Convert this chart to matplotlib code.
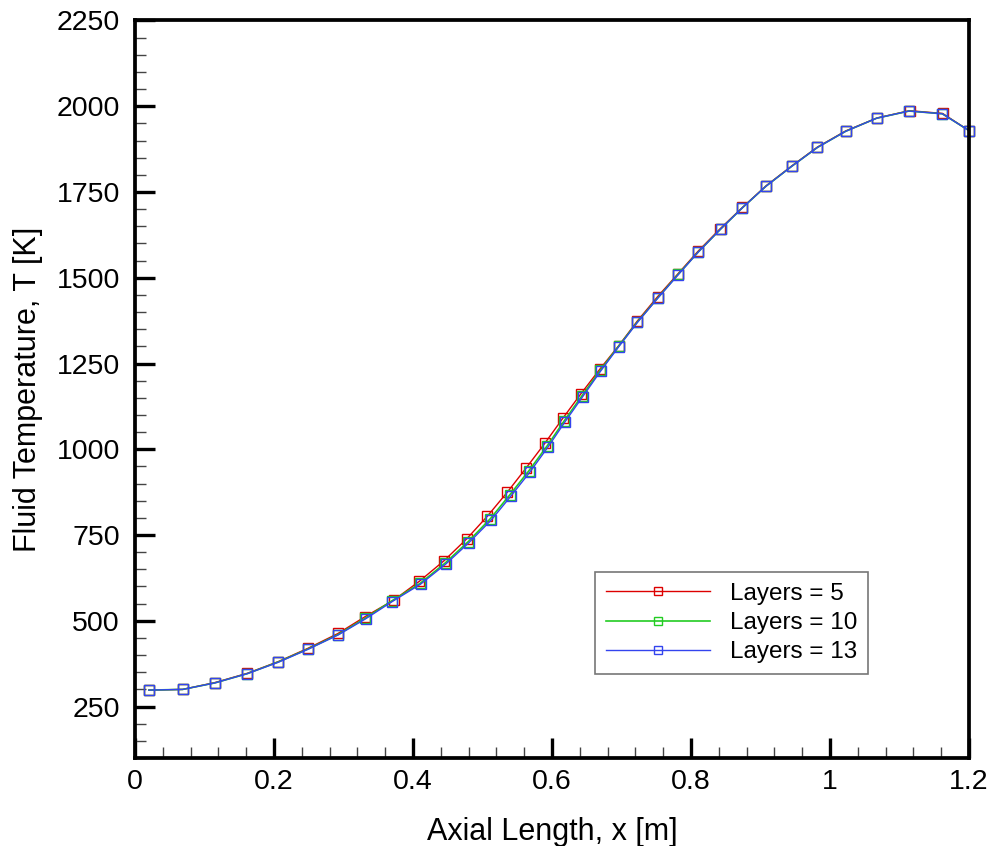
import matplotlib
matplotlib.use("Agg")
import matplotlib.pyplot as plt
from matplotlib.ticker import MultipleLocator, FuncFormatter

plt.rcParams['font.family'] = ['Liberation Sans', 'DejaVu Sans']

# Layers = 13 (blue)
x_13 = [0.020, 0.0686, 0.115, 0.1616, 0.206, 0.249, 0.2925, 0.332, 0.370, 0.411,
        0.4475, 0.4806, 0.5127, 0.541, 0.568, 0.5947, 0.6187, 0.644, 0.670, 0.696,
        0.723, 0.752, 0.7817, 0.8105, 0.8427, 0.874, 0.908, 0.945, 0.982, 1.0226,
        1.067, 1.1137, 1.1616, 1.2]
t_13 = [298, 300, 319, 346, 379, 417, 459, 506, 556, 607,
        666, 728, 794, 864, 933, 1008, 1080, 1153, 1228, 1299,
        1370, 1440, 1509, 1575, 1642, 1704, 1767, 1825, 1880, 1927,
        1965, 1986, 1978, 1929]

# Layers = 10 (green)
x_10 = [0.020, 0.0686, 0.115, 0.1616, 0.206, 0.249, 0.2922, 0.3316, 0.3695, 0.4102,
        0.4466, 0.4795, 0.5114, 0.5396, 0.5666, 0.5934, 0.6176, 0.6431, 0.6694, 0.6957,
        0.7228, 0.752, 0.7815, 0.8104, 0.8427, 0.874, 0.908, 0.945, 0.982, 1.0226,
        1.067, 1.1137, 1.1616, 1.2]
t_10 = [298, 300, 319, 346, 380, 418, 460, 508, 558, 609,
        669, 731, 798, 868, 937, 1011, 1083, 1156, 1230, 1300,
        1371, 1441, 1510, 1575, 1642, 1704, 1767, 1825, 1880, 1927,
        1965, 1986, 1978, 1929]

# Layers = 5 (red)
x_5 = [0.020, 0.0686, 0.115, 0.1616, 0.206, 0.249, 0.292, 0.331, 0.3727, 0.409,
       0.4446, 0.4773, 0.507, 0.5357, 0.5626, 0.5895, 0.6154, 0.6413, 0.669, 0.696,
       0.7228, 0.752, 0.781, 0.810, 0.842, 0.874, 0.908, 0.945, 0.982, 1.0226,
       1.068, 1.1145, 1.162, 1.2]
t_5 = [298, 300, 320, 347, 381, 420, 463, 512, 561, 615,
       675, 739, 805, 875, 945, 1017, 1090, 1161, 1234, 1302,
       1374, 1445, 1511, 1577, 1643, 1705, 1768, 1826, 1881, 1928,
       1966, 1987, 1979, 1929]

fig = plt.figure(figsize=(9.93, 8.46), dpi=100)
ax = fig.add_axes([0.136, 0.104, 0.8398, 0.8718])

ax.plot(x_5, t_5, color='#dd0000', lw=1.0, marker='s', ms=7, mfc='none',
        mec='#dd0000', mew=1.0, label='Layers = 5', clip_on=False)
ax.plot(x_10, t_10, color='#22cc22', lw=1.2, marker='s', ms=7, mfc='none',
        mec='#22cc22', mew=1.0, label='Layers = 10', clip_on=False)
ax.plot(x_13, t_13, color='#3344ee', lw=1.0, marker='s', ms=7, mfc='none',
        mec='#3344ee', mew=1.0, label='Layers = 13', clip_on=False)

ax.set_xlim(0, 1.2)
ax.set_ylim(100, 2250)
ax.xaxis.set_major_locator(MultipleLocator(0.2))
ax.xaxis.set_minor_locator(MultipleLocator(0.04))
ax.yaxis.set_major_locator(MultipleLocator(250))
ax.yaxis.set_minor_locator(MultipleLocator(50))
ax.xaxis.set_major_formatter(FuncFormatter(lambda v, p: '%g' % round(v, 2)))

for s in ax.spines.values():
    s.set_linewidth(2.7)
    s.set_zorder(5)
ax.tick_params(which='major', direction='in', length=14.5, width=2.4,
               labelsize=20.5, top=False, right=False)
ax.tick_params(axis='x', which='major', pad=8)
ax.tick_params(axis='y', which='major', pad=11)
ax.tick_params(which='minor', direction='in', length=8, width=1.0,
               top=False, right=False, color='#444444')

ax.set_xlabel('Axial Length, x [m]', fontsize=22, labelpad=16)
ax.set_ylabel('Fluid Temperature, T [K]', fontsize=22, labelpad=10)

leg = ax.legend(loc='center', bbox_to_anchor=(0.7152, 0.183),
                fontsize=17.5, frameon=True, fancybox=False,
                edgecolor='#555555', handlelength=4.3, handletextpad=0.8,
                labelspacing=0.3, borderpad=0.45, borderaxespad=0,
                markerscale=0.85)
leg.get_frame().set_linewidth(1.2)

fig.savefig('out.png', dpi=100)
